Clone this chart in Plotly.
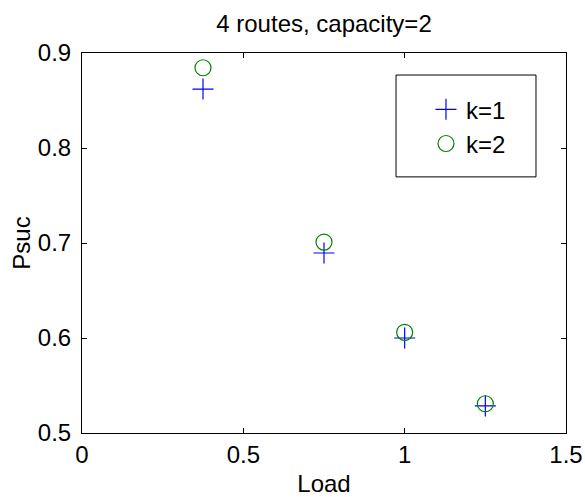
import plotly.graph_objects as go

load = [0.375, 0.75, 1.0, 1.25]
psuc_k1 = [0.862, 0.6895, 0.600, 0.5285]
psuc_k2 = [0.8845, 0.701, 0.606, 0.5308]

font = "Liberation Sans, Arial, Helvetica, sans-serif"
FS = 24

fig = go.Figure()
fig.add_trace(go.Scatter(x=load, y=psuc_k1, mode="markers", name="k=1",
                         marker=dict(symbol="cross-thin", size=15, color="#0000ff",
                                     line=dict(color="#0000ff", width=1.2))))
fig.add_trace(go.Scatter(x=load, y=psuc_k2, mode="markers", name="k=2",
                         marker=dict(symbol="circle-open", size=16, color="#008000",
                                     line=dict(color="#008000", width=1.2))))

axis_common = dict(showgrid=False, zeroline=False, showline=True, linecolor="black",
                   linewidth=1, mirror="ticks", ticks="inside", ticklen=5, automargin=False,
                   tickcolor="black", tickfont=dict(size=FS, color="black", family=font))

fig.update_xaxes(range=[0, 1.5], tickvals=[0, 0.5, 1, 1.5], ticktext=["0", "0.5", "1", "1.5"],
                 title=dict(text="Load", font=dict(size=FS, color="black", family=font), standoff=10),
                 **axis_common)
fig.update_yaxes(range=[0.5, 0.9], tickvals=[0.5, 0.6, 0.7, 0.8, 0.9],
                 ticktext=["0.5", "0.6", "0.7", "0.8", "0.9"], ticklabelstandoff=5,
                 title=dict(text="Psuc", font=dict(size=FS, color="black", family=font), standoff=0),
                 **axis_common)

# legend frame (MATLAB style box)
fig.add_shape(type="rect", xref="paper", yref="paper", x0=0.6488, x1=0.938, y0=0.674, y1=0.942,
              line=dict(color="black", width=1), fillcolor="white", layer="below")

fig.update_layout(
    width=585, height=497,
    margin=dict(l=82, r=19, t=53, b=64),
    paper_bgcolor="white", plot_bgcolor="white",
    title=dict(text="4 routes, capacity=2", x=0.5, xref="paper", y=0.952, yanchor="middle",
               font=dict(size=FS, color="black", family=font)),
    showlegend=True,
    legend=dict(x=0.7107, y=0.910, xanchor="left", yanchor="top",
                borderwidth=0, bgcolor="rgba(0,0,0,0)",
                font=dict(size=FS, color="black", family=font)),
)

fig.write_html("out.html", config={"displayModeBar": False},
               post_script="document.body.style.margin='0';")
